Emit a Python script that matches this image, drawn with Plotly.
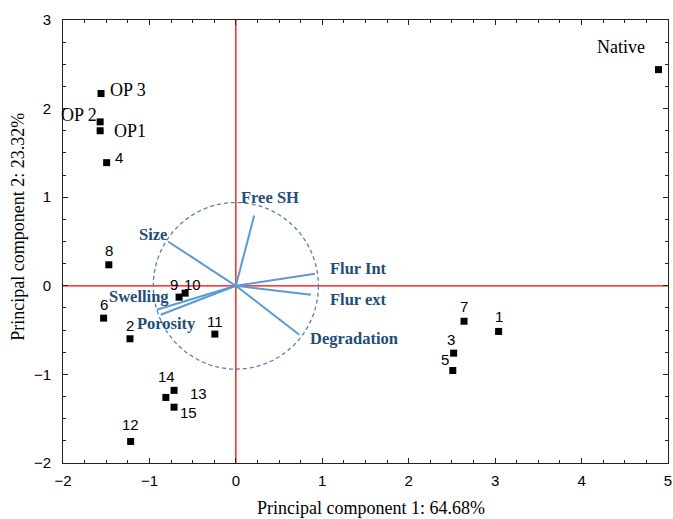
import plotly.graph_objects as go

# ---- data ----
point_labels = ["Native", "OP 3", "OP 2", "OP1", "4", "8", "6", "2", "9", "10", "11",
                "7", "1", "3", "5", "14", "13", "15", "12"]
pc1 = [4.89, -1.56, -1.57, -1.57, -1.495, -1.47, -1.53, -1.225, -0.657, -0.587, -0.243,
       2.64, 3.04, 2.52, 2.51, -0.81, -0.715, -0.715, -1.217]
pc2 = [2.44, 2.17, 1.85, 1.75, 1.39, 0.237, -0.365, -0.598, -0.128, -0.083, -0.545,
       -0.40, -0.515, -0.76, -0.956, -1.26, -1.18, -1.37, -1.757]

var_names = ["Free SH", "Size", "Flur Int", "Flur ext", "Degradation", "Swelling", "Porosity"]
load1 = [0.212, -0.785, 0.915, 0.869, 0.734, -0.915, -0.869]
load2 = [0.793, 0.50, 0.135, -0.10, -0.553, -0.27, -0.327]

circle_radius_x = 0.955
circle_radius_y = 0.94

x_title = "Principal component 1: 64.68%"
y_title = "Principal component 2: 23.32%"
x_ticks = [-2, -1, 0, 1, 2, 3, 4, 5]
y_ticks = [-2, -1, 0, 1, 2, 3]

# ---- label placement (pixel offsets) ----
pt_offsets = {
    "Native": (-37, 23), "OP 3": (27, 4), "OP 2": (-21, 7), "OP1": (30, 0),
    "4": (12, 5), "8": (0, 14), "6": (0, 14), "2": (0, 13), "9": (-5, 13),
    "10": (7, 9), "11": (0, 13), "7": (0, 15), "1": (0, 15), "3": (-3, 14),
    "5": (-8, 11), "14": (1, 21), "13": (24, -3), "15": (14, -5), "12": (0, 17),
}
var_label_pos = {
    "Free SH": (0.40, 1.0), "Size": (-0.96, 0.575), "Flur Int": (1.42, 0.2),
    "Flur ext": (1.42, -0.15), "Degradation": (1.37, -0.6),
    "Swelling": (-1.12, -0.125), "Porosity": (-0.8, -0.43),
}

fig = go.Figure()

# red reference axes through the origin
fig.add_shape(type="line", xref="x", yref="paper", x0=0, x1=0, y0=0, y1=1,
              line=dict(color="red", width=1.3), layer="below")
fig.add_shape(type="line", xref="paper", yref="y", x0=0, x1=1, y0=0, y1=0,
              line=dict(color="red", width=1.3), layer="below")

# loading vectors
vx, vy = [], []
for a, b in zip(load1, load2):
    vx += [0, a, None]
    vy += [0, b, None]
fig.add_trace(go.Scatter(x=vx, y=vy, mode="lines",
                         line=dict(color="#5b9bd5", width=2), hoverinfo="skip"))

# score points
fig.add_trace(go.Scatter(x=pc1, y=pc2, mode="markers", text=point_labels,
                         marker=dict(symbol="square", size=7, color="black")))

# correlation circle
fig.add_shape(type="circle", xref="x", yref="y",
              x0=-circle_radius_x, x1=circle_radius_x,
              y0=-circle_radius_y, y1=circle_radius_y,
              line=dict(color="#5a7fae", width=1.3, dash="4px,3px"))

annotations = []
for lab, x, y in zip(point_labels, pc1, pc2):
    dx, dy = pt_offsets[lab]
    is_serif = not lab.isdigit()
    annotations.append(dict(
        x=x, y=y, xref="x", yref="y", text=lab, showarrow=False,
        xshift=dx, yshift=dy,
        font=dict(family="Liberation Serif" if is_serif else "Liberation Sans",
                  size=18 if is_serif else 15, color="black")))
for name in var_names:
    lx, ly = var_label_pos[name]
    annotations.append(dict(
        x=lx, y=ly, xref="x", yref="y", text="<b>%s</b>" % name, showarrow=False,
        font=dict(family="Liberation Serif", size=16.5, color="#1f4e79")))

# axis titles
annotations.append(dict(x=0.509, y=-0.102, xref="paper", yref="paper", text=x_title,
                        showarrow=False, xanchor="center", yanchor="middle",
                        font=dict(family="Liberation Serif", size=18, color="black")))
annotations.append(dict(x=-0.0745, y=0.533, xref="paper", yref="paper", text=y_title,
                        showarrow=False, xanchor="center", yanchor="middle", textangle=-90,
                        font=dict(family="Liberation Serif", size=18, color="black")))

axis_common = dict(
    showgrid=False, zeroline=False,
    showline=True, linecolor="#222", linewidth=1, mirror="ticks",
    ticks="inside", ticklen=5, tickcolor="#222", automargin=False,
    tickfont=dict(family="Liberation Sans", size=15, color="black"),
    minor=dict(ticks="inside", ticklen=3, dtick=0.25, tickcolor="#222"),
)

fig.update_layout(
    width=673, height=519,
    margin=dict(l=63, r=5, t=20, b=56),
    paper_bgcolor="white", plot_bgcolor="white",
    showlegend=False,
    annotations=annotations,
    xaxis=dict(range=[-2, 5], tickvals=x_ticks, ticklabelstandoff=4, **axis_common),
    yaxis=dict(range=[-2, 3], tickvals=y_ticks, ticklabelstandoff=8, **axis_common),
)

fig.write_html("out.html", config={"displayModeBar": False},
               post_script="document.body.style.margin='0';document.body.style.overflow='hidden';")
